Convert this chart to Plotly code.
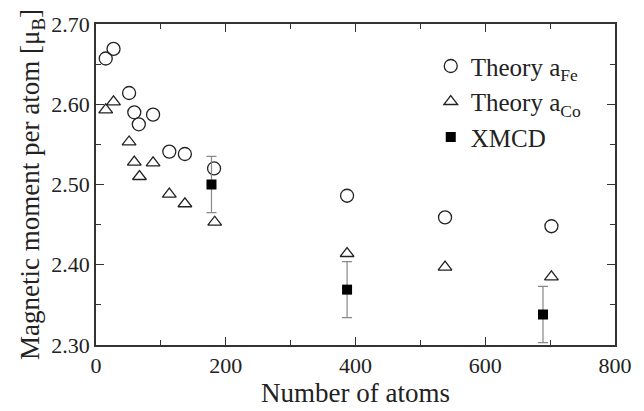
import plotly.graph_objects as go

fe_x = [15, 27, 51, 59, 66, 88, 113, 137, 182, 387, 538, 702]
fe_y = [2.657, 2.669, 2.614, 2.590, 2.575, 2.587, 2.541, 2.538, 2.520, 2.486, 2.459, 2.448]

co_x = [15, 27, 51, 59, 67, 88, 113, 137, 183, 387, 538, 702]
co_y = [2.593, 2.603, 2.553, 2.528, 2.510, 2.527, 2.488, 2.476, 2.453, 2.414, 2.397, 2.385]

xmcd_x = [178, 387, 689]
xmcd_y = [2.500, 2.369, 2.338]
xmcd_err = [0.035, 0.035, 0.035]

FONT = "Liberation Serif"

fig = go.Figure()
fig.add_trace(go.Scatter(
    x=fe_x, y=fe_y, mode="markers", name="Theory a<sub>Fe</sub>",
    marker=dict(symbol="circle-open", size=13, color="#222", line=dict(width=1.3)),
))
fig.add_trace(go.Scatter(
    x=co_x, y=co_y, mode="markers", name="Theory a<sub>Co</sub>",
    marker=dict(symbol="triangle-up-open", size=12, color="#222", line=dict(width=1.3)),
))
fig.add_trace(go.Scatter(
    x=xmcd_x, y=xmcd_y, mode="markers", name="XMCD",
    marker=dict(symbol="square", size=10, color="black"),
    error_y=dict(type="data", array=xmcd_err, color="#888", thickness=1.2, width=5),
))

axis_common = dict(
    showgrid=False, zeroline=False, showline=True, linecolor="#333", linewidth=1.5,
    mirror="ticks", ticks="inside", ticklen=8, tickcolor="#333", tickwidth=1,
    tickfont=dict(family=FONT, size=22, color="#222"),
)
fig.update_xaxes(
    range=[0, 800], tickvals=[0, 200, 400, 600, 800], ticktext=["0", "200", "400", "600", "800"],
    minor=dict(ticks="inside", ticklen=5, dtick=100, tickcolor="#333"),
    title=dict(text="Number of atoms", font=dict(family=FONT, size=27, color="#222"), standoff=2),
    **axis_common,
)
fig.update_yaxes(
    range=[2.30, 2.70], tickvals=[2.3, 2.4, 2.5, 2.6, 2.7], ticktext=["2.30", "2.40", "2.50", "2.60", "2.70"],
    minor=dict(ticks="inside", ticklen=5, dtick=0.05, tickcolor="#333"),
    title=dict(text="Magnetic moment per atom [μ<sub>B</sub>]", font=dict(family=FONT, size=27, color="#222"), standoff=4),
    **axis_common,
)
fig.update_layout(
    width=644, height=411, margin=dict(l=96, r=20, t=18, b=56),
    paper_bgcolor="white", plot_bgcolor="white",
    font=dict(family=FONT, color="#222"),
    legend=dict(x=0.645, y=0.94, xanchor="left", yanchor="top", bgcolor="rgba(0,0,0,0)",
                font=dict(family=FONT, size=25, color="#222"), itemwidth=30, tracegroupgap=0),
    showlegend=True,
)
fig.write_html("out.html")
